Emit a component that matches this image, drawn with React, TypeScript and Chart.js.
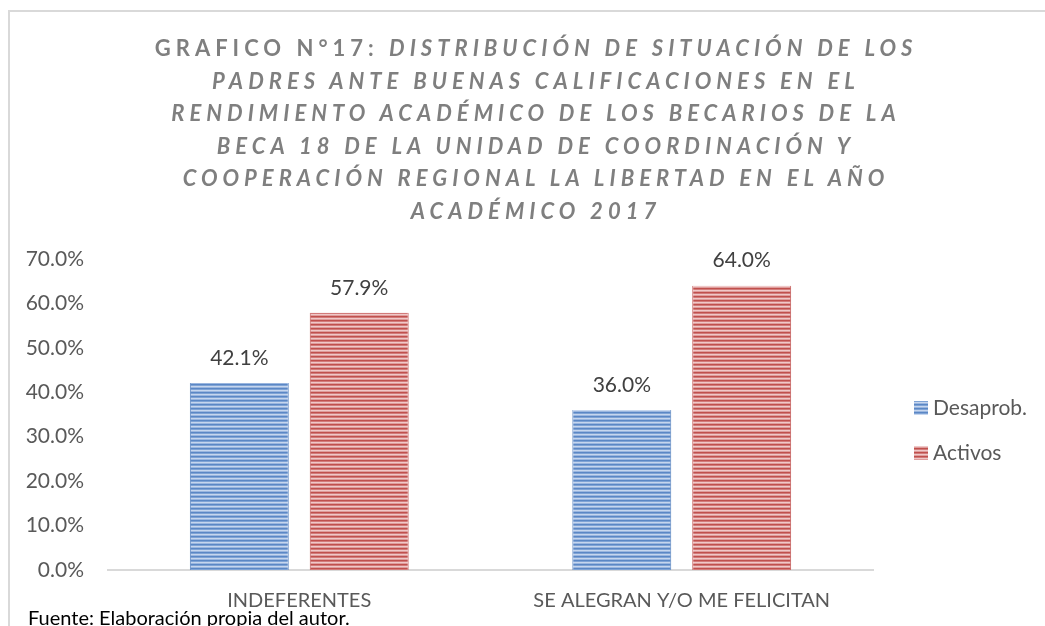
import React, { useEffect, useRef } from 'react';
import { Chart, registerables } from 'chart.js';

Chart.register(...registerables);

const categories = ['INDEFERENTES', 'SE ALEGRAN Y/O ME FELICITAN'];
const seriesNames = ['Desaprob.', 'Activos'];
const desaprobValues = [42.1, 36.0];
const activosValues = [57.9, 64.0];
const yMin = 0;
const yMax = 70;
const yStep = 10;
const titleLead = 'GRAFICO N°17: ';
const titleLines = [
  'DISTRIBUCIÓN DE SITUACIÓN DE LOS',
  'PADRES ANTE BUENAS CALIFICACIONES EN EL',
  'RENDIMIENTO ACADÉMICO DE LOS BECARIOS DE LA',
  'BECA 18 DE LA UNIDAD DE COORDINACIÓN Y',
  'COOPERACIÓN REGIONAL LA LIBERTAD EN EL AÑO',
  'ACADÉMICO 2017',
];
const sourceText = 'Fuente: Elaboración propia del autor.';

const FONT = 'Lato, "Open Sans", sans-serif';

function makeStripe(rows: string[]): CanvasPattern | string {
  const c = document.createElement('canvas');
  c.width = 4;
  c.height = rows.length;
  const ctx = c.getContext('2d');
  if (!ctx) return rows[0];
  rows.forEach((col, i) => {
    ctx.fillStyle = col;
    ctx.fillRect(0, i, 4, 1);
  });
  const p = ctx.createPattern(c, 'repeat');
  return p || rows[0];
}

export default function App() {
  const ref = useRef<HTMLCanvasElement | null>(null);

  useEffect(() => {
    if (!ref.current) return;
    const bluePat = makeStripe(['#5b87c5', '#7fa3d5', '#c6d6ee', '#9ab6df']);
    const redPat = makeStripe(['#c0504d', '#d27b7a', '#f0c8c8', '#de9d9c']);
    const fills = [bluePat, redPat];

    const labelPlugin = {
      id: 'labelsAndLegend',
      afterDatasetsDraw(chart: any) {
        const ctx = chart.ctx;
        ctx.save();
        ctx.font = `21px ${FONT}`;
        ctx.fillStyle = '#404040';
        ctx.textAlign = 'center';
        ctx.textBaseline = 'middle';
        chart.data.datasets.forEach((ds: any, di: number) => {
          const meta = chart.getDatasetMeta(di);
          meta.data.forEach((el: any, i: number) => {
            const v = ds.data[i] as number;
            ctx.fillText(`${v.toFixed(1)}%`, el.x, el.y - 25);
          });
        });
        // legend
        const area = chart.chartArea;
        ctx.textAlign = 'left';
        seriesNames.forEach((name, i) => {
          const bx = area.right + 41;
          const cy = 396 + i * 45;
          ctx.fillStyle = fills[i] as any;
          ctx.fillRect(bx, cy - 7, 14, 14);
          ctx.fillStyle = '#595959';
          ctx.fillText(name, bx + 19, cy);
        });
        ctx.restore();
      },
    };

    const chart = new Chart(ref.current, {
      type: 'bar',
      data: {
        labels: categories,
        datasets: [
          {
            label: seriesNames[0],
            data: desaprobValues,
            backgroundColor: bluePat as any,
            borderColor: '#5581be',
            borderWidth: { left: 1, right: 1, top: 0, bottom: 0 } as any,
            borderSkipped: false as any,
            categoryPercentage: 0.627,
            barPercentage: 0.825,
          },
          {
            label: seriesNames[1],
            data: activosValues,
            backgroundColor: redPat as any,
            borderColor: '#c25654',
            borderWidth: { left: 1, right: 1, top: 0, bottom: 0 } as any,
            borderSkipped: false as any,
            categoryPercentage: 0.627,
            barPercentage: 0.825,
          },
        ],
      },
      options: {
        responsive: false,
        maintainAspectRatio: false,
        animation: false,
        layout: { padding: { top: 247, right: 172, bottom: 0, left: 0 } },
        plugins: {
          legend: { display: false },
          title: { display: false },
          tooltip: { enabled: false },
        },
        scales: {
          x: {
            grid: { display: false, drawTicks: false },
            border: { display: true, color: '#d9d9d9', width: 2 },
            ticks: { font: { family: FONT, size: 20 }, color: '#595959', padding: 19, maxRotation: 0 },
            afterFit: (s: any) => {
              s.height = 56;
            },
          },
          y: {
            min: yMin,
            max: yMax,
            grid: { display: false, drawTicks: false },
            border: { display: false },
            ticks: {
              stepSize: yStep,
              font: { family: FONT, size: 21 },
              color: '#595959',
              padding: 24,
              callback: (v: any) => `${Number(v).toFixed(1)}%`,
            },
            afterFit: (s: any) => {
              s.width = 98;
            },
          },
        },
      },
      plugins: [labelPlugin],
    });
    return () => chart.destroy();
  }, []);

  return (
    <div
      style={{
        position: 'fixed',
        left: 8,
        top: 10,
        width: 1037,
        height: 616,
        boxSizing: 'border-box',
        borderTop: '2px solid #d9d9d9',
        borderLeft: '2px solid #d9d9d9',
        overflow: 'hidden',
        background: '#fff',
      }}
    >
      <canvas ref={ref} width={1035} height={614} style={{ position: 'absolute', left: 0, top: 0, width: 1035, height: 614 }} />
      <div
        style={{
          position: 'absolute',
          left: 0,
          top: 20,
          width: 1052,
          textAlign: 'center',
          fontFamily: FONT,
          fontWeight: 'bold',
          fontSize: 22,
          lineHeight: '32.5px',
          letterSpacing: '5px',
          color: '#7f7f7f',
        }}
      >
        {titleLines.map((line, i) => (
          <div key={i}>
            {i === 0 ? <span>{titleLead}</span> : null}
            <span style={{ fontStyle: 'italic' }}>{line}</span>
          </div>
        ))}
      </div>
      <div
        style={{
          position: 'absolute',
          left: 18,
          top: 594,
          fontFamily: FONT,
          fontSize: 20,
          lineHeight: '22px',
          color: '#000',
          whiteSpace: 'nowrap',
        }}
      >
        {sourceText}
      </div>
    </div>
  );
}
